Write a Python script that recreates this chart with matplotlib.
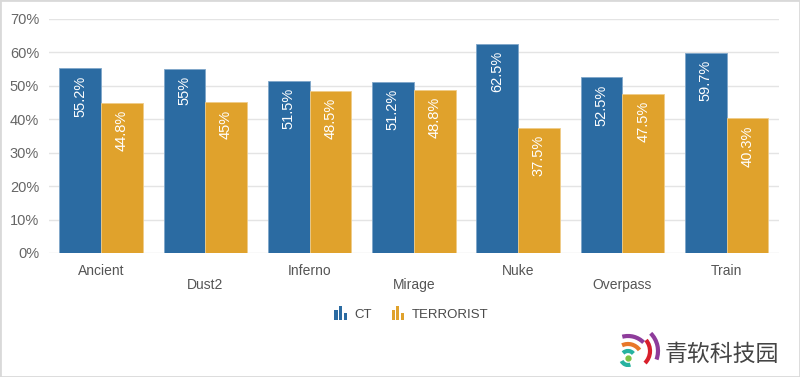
import numpy as np
import matplotlib.pyplot as plt
from matplotlib.patches import Rectangle, Arc
from matplotlib.legend_handler import HandlerBase

maps = ["Ancient", "Dust2", "Inferno", "Mirage", "Nuke", "Overpass", "Train"]
ct = [55.2, 55, 51.5, 51.2, 62.5, 52.5, 59.7]
terrorist = [44.8, 45, 48.5, 48.8, 37.5, 47.5, 40.3]
ct_labels = ["55.2%", "55%", "51.5%", "51.2%", "62.5%", "52.5%", "59.7%"]
t_labels = ["44.8%", "45%", "48.5%", "48.8%", "37.5%", "47.5%", "40.3%"]
yticks = [0, 10, 20, 30, 40, 50, 60, 70]

CT_COLOR = "#2b6ba2"
T_COLOR = "#e0a22c"

plt.rcParams['font.family'] = ['Liberation Sans', 'DejaVu Sans']


class BarIconHandler(HandlerBase):
    # small three-bar icon like the original legend
    def create_artists(self, legend, orig_handle, xdescent, ydescent,
                       width, height, fontsize, trans):
        col = orig_handle.get_facecolor()
        hs = [0.7, 1.0, 0.45]
        bw = width * 0.26
        gap = (width - 3 * bw) / 2
        out = []
        for i, h in enumerate(hs):
            r = Rectangle((-xdescent + i * (bw + gap), -ydescent - 1), bw, height * h * 1.3,
                          facecolor=col, edgecolor="none", transform=trans)
            out.append(r)
        return out


fig = plt.figure(figsize=(8, 3.77), dpi=100)
ax = fig.add_axes([0.061, 0.329, 0.9125, 0.621])

x = np.arange(len(maps))
bw = 0.4
b1 = ax.bar(x - bw / 2, ct, bw, color=CT_COLOR, edgecolor="#7fa6c9", linewidth=0.6, zorder=3)
b2 = ax.bar(x + bw / 2, terrorist, bw, color=T_COLOR, edgecolor="#f0cc88", linewidth=0.6, zorder=3)

for bars, labels in ((b1, ct_labels), (b2, t_labels)):
    for rect, lab in zip(bars, labels):
        ax.annotate(lab, (rect.get_x() + rect.get_width() / 2, rect.get_height()),
                    xytext=(0, -5), textcoords="offset points", rotation=90,
                    ha="center", va="top", color="white", fontsize=10.5, zorder=4)

ax.set_xlim(-0.5, len(maps) - 0.5)
ax.set_ylim(0, 70)
ax.set_yticks(yticks)
ax.set_yticklabels([f"{v}%" for v in yticks], color="#666666", fontsize=10.5)
ax.set_xticks(x)
ax.set_xticklabels([m if i % 2 == 0 else "\n" + m for i, m in enumerate(maps)],
                   color="#555555", fontsize=10, linespacing=1.0)
ax.tick_params(axis="x", length=0, pad=8)
ax.tick_params(axis="y", length=0, pad=7)
for s in ax.spines.values():
    s.set_visible(False)
ax.grid(axis="y", color="#e4e4e4", linewidth=1, zorder=0)
ax.set_axisbelow(True)

leg = fig.legend([b1.patches[0], b2.patches[0]], ["CT", "TERRORIST"],
                 handler_map={Rectangle: BarIconHandler()},
                 loc="center", bbox_to_anchor=(0.514, 0.167), ncol=2, frameon=False,
                 fontsize=9.5, handlelength=0.95, handleheight=0.9, handletextpad=0.55,
                 columnspacing=1.5)
for t in leg.get_texts():
    t.set_color("#4a4a4a")

# logo at bottom right
fig.text(0.831, 0.06, "青软科技园", fontsize=16.5, color="#444444", weight="medium",
         family=["Noto Sans CJK SC", "DejaVu Sans"], va="center", ha="left")
lax = fig.add_axes([615 / 800, 0.0, 60 / 800, 52 / 377])
lax.set_xlim(0, 60)
lax.set_ylim(0, 52)
lax.axis("off")
cx, cy = 13, 19
lax.add_patch(Arc((cx, cy), 14, 14, theta1=40, theta2=135, color="#27b2a0", linewidth=3))
lax.add_patch(Arc((cx, cy), 14, 14, theta1=205, theta2=290, color="#27b2a0", linewidth=3))
lax.add_patch(Arc((cx, cy), 28, 28, theta1=35, theta2=115, color="#e8772a", linewidth=3))
lax.add_patch(Arc((cx, cy), 44, 44, theta1=45, theta2=105, color="#8e3c9b", linewidth=3))
lax.add_patch(Arc((18, 26), 34, 34, theta1=-45, theta2=40, color="#d8202c", linewidth=3))
lax.add_patch(Arc((18, 26), 50, 50, theta1=-20, theta2=45, color="#8e3c9b", linewidth=3))
lax.plot([cx], [cy], "o", color="#7cc242", markersize=3.5)

# thin light border like the screenshot frame
fig.patches.append(Rectangle((0, 0), 1, 1, transform=fig.transFigure, fill=False,
                             edgecolor="#d9d9d9", linewidth=2))

fig.savefig("out.png", dpi=100)
